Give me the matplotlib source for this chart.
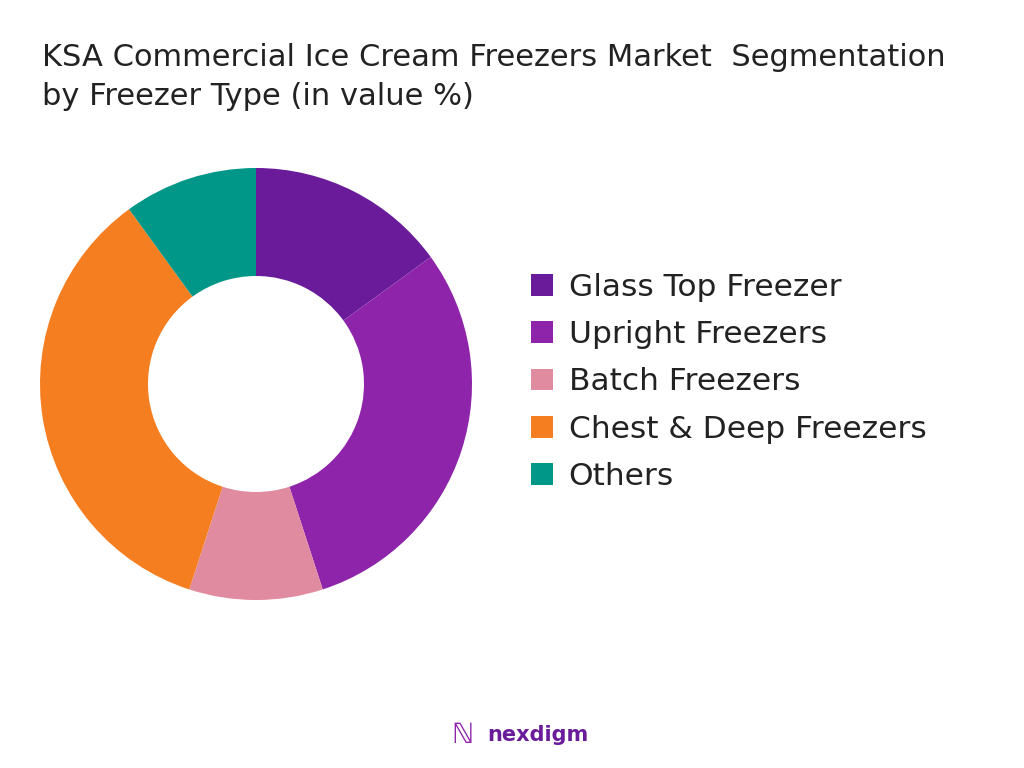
import matplotlib
matplotlib.use("Agg")
import matplotlib.pyplot as plt
from matplotlib.patches import Patch

labels = ["Glass Top Freezer", "Upright Freezers", "Batch Freezers", "Chest & Deep Freezers", "Others"]
values = [15, 30, 10, 35, 10]
colors = ["#6A1B9A", "#8E24AA", "#E08BA0", "#F57F20", "#009688"]

plt.rcParams['font.family'] = ['DejaVu Sans']
fig = plt.figure(figsize=(10.24, 7.68), dpi=100)
ax = fig.add_axes([40/1024, 1-600/768, 432/1024, 432/768])
ax.pie(values, colors=colors, startangle=90, counterclock=False,
       wedgeprops=dict(width=0.5, edgecolor='none'))
ax.set_xlim(-1, 1); ax.set_ylim(-1, 1)
ax.set_aspect('equal')

fig.text(42/1024, 1-77/768, "KSA Commercial Ice Cream Freezers Market  Segmentation\nby Freezer Type (in value %)",
         fontsize=22, color="#222222", va='center', ha='left', linespacing=1.45)

handles = [Patch(facecolor=c, label=l) for c, l in zip(colors, labels)]
fig.legend(handles=handles, loc='center left', bbox_to_anchor=(503/1024, 1-382/768),
           frameon=False, fontsize=22.5, handlelength=0.7, handleheight=0.7,
           labelspacing=0.58, handletextpad=0.5, labelcolor="#222222")

fig.text(487/1024, 1-735/768, "nexdigm", fontsize=15, fontweight='bold', color="#6A1B9A",
         ha='left', va='center')
fig.text(462/1024, 1-735/768, "ℕ", fontsize=20, color="#8E24AA", ha='center', va='center')
fig.savefig("out.png", dpi=100)
